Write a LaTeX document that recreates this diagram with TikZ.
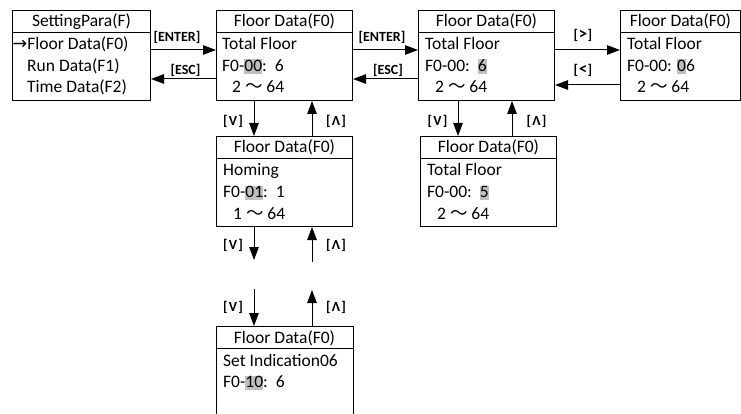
\documentclass[tikz,border=0pt]{standalone}
\usepackage{fontspec}
\setmainfont{Carlito}
\newfontfamily\symf{DejaVu Sans}
\newfontfamily\cjkf{Noto Sans CJK SC}
\usetikzlibrary{arrows.meta,calc}
\definecolor{hlgray}{RGB}{191,191,191}
\newcommand\hl[1]{{\setlength{\fboxsep}{0pt}\colorbox{hlgray}{\rule[-2.5pt]{0pt}{14.5pt}#1}}}
\newcommand\tld{{\cjkf ～}}
\newcommand\kv[1]{[\kern1.2pt #1\kern1.2pt]}
\begin{document}
\begin{tikzpicture}[x=1pt,y=-1pt,
  box/.style={draw, line width=1pt, rectangle, minimum height=90pt, inner sep=0pt, anchor=north west},
  ttl/.style={anchor=base, inner sep=0pt, font=\fontsize{17.5}{20}\selectfont},
  txt/.style={anchor=base west, inner sep=0pt, font=\fontsize{17.5}{20}\selectfont},
  arr/.style={line width=1pt, -{Triangle[length=13pt,width=9.5pt]}},
  lab/.style={inner sep=0pt, font=\bfseries\fontsize{14}{16}\selectfont}]
\useasboundingbox (0,0) rectangle (741,414);

% boxes
\node[box, minimum width=138pt] (b1) at (12,10) {};
\node[box, minimum width=136pt] (b2) at (216,10) {};
\node[box, minimum width=136pt] (b3) at (418,10) {};
\node[box, minimum width=120pt] (b4) at (620,10) {};
\node[box, minimum width=136pt] (b5) at (216,136) {};
\node[box, minimum width=136pt] (b6) at (420,136) {};
\node[box, draw=none, minimum width=136pt, minimum height=88pt] (b7) at (216,326) {};
\draw[line width=1pt] (b7.south west) -- (b7.north west) -- (b7.north east) -- (b7.south east);

% separators
\foreach \b in {b1,b2,b3,b4,b5,b6,b7}
  \draw[line width=1pt] ($(\b.north west)+(0,22.5)$) -- ($(\b.north east)+(0,22.5)$);

% titles
\node[ttl] (t1) at ($(b1.north)+(0,17)$) {SettingPara(F)};
\foreach \b in {b2,b3,b4,b5,b6,b7}
  \node[ttl] (t\b) at ($(\b.north)+(0,17)$) {Floor Data(F0)};

% box 1
\node[txt] (b1l1) at ($(b1.north west)+(0.5,40)$) {{\symf →}Floor Data(F0)};
\node[txt] (b1l2) at ($(b1.north west)+(15,61.5)$) {Run Data(F1)};
\node[txt] (b1l3) at ($(b1.north west)+(15,83)$) {Time Data(F2)};

% box 2
\node[txt] (b2l1) at ($(b2.north west)+(6,40)$) {Total Floor};
\node[txt] (b2l2) at ($(b2.north west)+(6,61.5)$) {F0-\hl{00}:\ \ 6};
\node[txt] (b2l3) at ($(b2.north west)+(16,83)$) {2 \tld\ 64};

% box 3
\node[txt] (b3l1) at ($(b3.north west)+(7,40)$) {Total Floor};
\node[txt] (b3l2) at ($(b3.north west)+(7,61.5)$) {F0-00:\ \ \hl{6}};
\node[txt] (b3l3) at ($(b3.north west)+(17,83)$) {2 \tld\ 64};

% box 4
\node[txt] (b4l1) at ($(b4.north west)+(7,40)$) {Total Floor};
\node[txt] (b4l2) at ($(b4.north west)+(7,61.5)$) {F0-00: \hl{0}6};
\node[txt] (b4l3) at ($(b4.north west)+(17,83)$) {2 \tld\ 64};

% box 5
\node[txt] (b5l1) at ($(b5.north west)+(7,40)$) {Homing};
\node[txt] (b5l2) at ($(b5.north west)+(7,61.5)$) {F0-\hl{01}:\ \ 1};
\node[txt] (b5l3) at ($(b5.north west)+(17,83)$) {1 \tld\ 64};

% box 6
\node[txt] (b6l1) at ($(b6.north west)+(7,40)$) {Total Floor};
\node[txt] (b6l2) at ($(b6.north west)+(7,61.5)$) {F0-00:\ \ \hl{5}};
\node[txt] (b6l3) at ($(b6.north west)+(17,83)$) {2 \tld\ 64};

% box 7
\node[txt] (b7l1) at ($(b7.north west)+(7,40)$) {Set Indication06};
\node[txt] (b7l2) at ($(b7.north west)+(7,61.5)$) {F0-\hl{10}:\ \ 6};

% horizontal arrows
\draw[arr] ($(b1.north east)+(0,40)$) -- ($(b2.north west)+(0,40)$);
\draw[arr] ($(b2.north west)+(0,69)$) -- ($(b1.north east)+(0,69)$);
\draw[arr] ($(b2.north east)+(0,40)$) -- ($(b3.north west)+(0,40)$);
\draw[arr] ($(b3.north west)+(0,69)$) -- ($(b2.north east)+(0,69)$);
\draw[arr] ($(b3.north east)+(0,40)$) -- ($(b4.north west)+(0,40)$);
\draw[arr] ($(b4.north west)+(0,75)$) -- ($(b3.north east)+(0,75)$);

\node[lab] (e1) at (177,37) {[ENTER]};
\node[lab] (s1) at (185.5,70) {[ESC]};
\node[lab] (e2) at (382,37) {[ENTER]};
\node[lab] (s2) at (388,70) {[ESC]};
\node[lab] (g1) at (583,35) {[\kern0.5pt{\fontsize{17}{17}\selectfont >}\kern0.5pt]};
\node[lab] (g2) at (583,70) {[\kern0.5pt{\fontsize{17}{17}\selectfont <}\kern0.5pt]};

% vertical arrows
\draw[arr] ($(b2.south west)+(38,0)$) -- ($(b5.north west)+(38,0)$);
\draw[arr] ($(b5.north west)+(96,0)$) -- ($(b2.south west)+(96,0)$);
\draw[arr] ($(b3.south west)+(40,0)$) -- ($(b6.north west)+(38,0)$);
\draw[arr] ($(b6.north west)+(92,0)$) -- ($(b3.south west)+(94,0)$);

\coordinate (c1) at (254,260);
\coordinate (c2) at (312,262);
\coordinate (c3) at (254,289);
\coordinate (c4) at (312,290);
\draw[arr] ($(b5.south west)+(38,0)$) -- (c1);
\draw[arr] (c2) -- ($(b5.south west)+(96,0)$);
\draw[arr] (c3) -- ($(b7.north west)+(38,0)$);
\draw[arr] ($(b7.north west)+(96,0)$) -- (c4);

\node[lab] (v1) at (233,121.5) {\kv{V}};
\node[lab] (u1) at (336,121.5) {\kv{Λ}};
\node[lab] (v2) at (437.5,121.5) {\kv{V}};
\node[lab] (u2) at (536.5,121.5) {\kv{Λ}};
\node[lab] (v3) at (233,245) {\kv{V}};
\node[lab] (u3) at (336,245) {\kv{Λ}};
\node[lab] (v4) at (233,307.5) {\kv{V}};
\node[lab] (u4) at (336,307.5) {\kv{Λ}};
\end{tikzpicture}
\end{document}
